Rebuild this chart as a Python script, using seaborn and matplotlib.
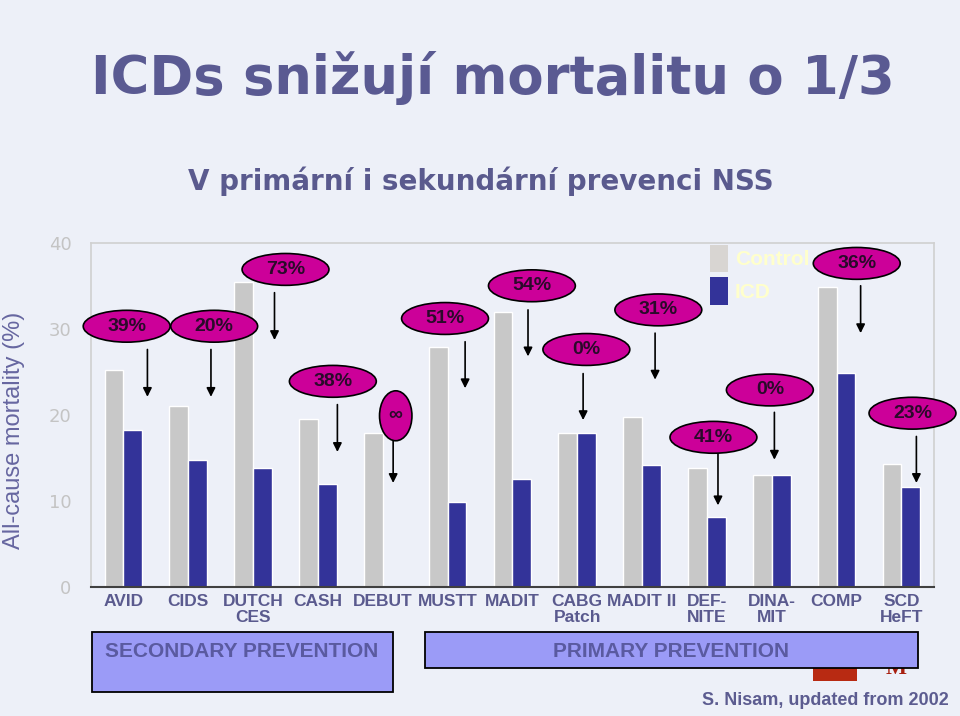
import numpy as np
import pandas as pd
import matplotlib
matplotlib.use("Agg")
import matplotlib.pyplot as plt
import seaborn as sns
from matplotlib.patches import Ellipse, Rectangle, Patch

# data
studies = ["AVID", "CIDS", "DUTCH\nCES", "CASH", "DEBUT", "MUSTT", "MADIT",
           "CABG\nPatch", "MADIT II", "DEF-\nNITE", "DINA-\nMIT", "COMP", "SCD\nHeFT"]
control = [25.2, 21.0, 35.4, 19.5, 17.9, 27.9, 31.9, 17.9, 19.8, 13.8, 13.0, 34.8, 14.3]
icd = [18.3, 14.8, 13.8, 12.0, 0.0, 9.9, 12.6, 17.9, 14.2, 8.1, 13.0, 24.9, 11.6]
reduction = ["39%", "20%", "73%", "38%", "\u221e", "51%", "54%", "0%", "31%", "41%", "0%", "36%", "23%"]

# bubble centres and arrows (x in category units, y in % mortality)
bubble_x = [0.05, 1.40, 2.50, 3.23, 4.20, 4.96, 6.30, 7.14, 8.25, 9.10, 9.97, 11.31, 12.17]
bubble_y = [30.3, 30.3, 36.9, 23.9, 19.9, 31.2, 35.0, 27.6, 32.2, 17.4, 22.9, 37.6, 20.2]
arrow_x = [0.37, 1.35, 2.33, 3.30, 4.16, 5.27, 6.24, 7.09, 8.20, 9.17, 10.04, 11.37, 12.23]
arrow_top = [27.6, 27.6, 34.2, 21.2, 17.2, 28.5, 32.2, 24.8, 29.5, 15.5, 20.3, 35.0, 17.5]
arrow_end = [22.1, 22.1, 28.7, 15.7, 12.1, 23.1, 26.8, 19.4, 24.1, 9.5, 14.8, 29.5, 12.1]

df = pd.DataFrame({
    "study": studies * 2,
    "group": ["Control"] * len(studies) + ["ICD"] * len(studies),
    "mortality": control + icd,
})

sns.set_style("white")
plt.rcParams["font.family"] = ["DejaVu Sans"]

SANS = ["Liberation Sans", "DejaVu Sans"]
SLATE = "#5a5a8e"
GREY = "#c8c8c8"
BLUE = "#333399"

fig = plt.figure(figsize=(9.6, 7.16), dpi=100, facecolor="#edf0f8")

ax = fig.add_axes([0.0948, 0.180, 0.878, 0.481])
ax.set_facecolor("none")

sns.barplot(data=df, x="study", y="mortality", hue="group",
            palette={"Control": GREY, "ICD": BLUE}, width=0.58,
            saturation=1, legend=False, ax=ax)

ax.set_xlim(-0.5, 12.5)
ax.set_ylim(0, 40)
ax.set_yticks([0, 10, 20, 30, 40])
ax.tick_params(axis="y", colors="#c4c4c4", labelsize=13, length=6, width=1, pad=8, direction="out")
ax.tick_params(axis="x", length=0, pad=5)
ax.set_xticks(range(len(studies)))
ax.set_xticklabels(studies, fontsize=12.5, fontweight="bold", color=SLATE,
                   family=SANS, linespacing=1.1)
for s in ["top", "right", "left"]:
    ax.spines[s].set_color("#d0d0d0")
    ax.spines[s].set_linewidth(1.2)
ax.spines["bottom"].set_color("#404040")
ax.spines["bottom"].set_linewidth(1.5)
ax.set_xlabel("")
ax.set_ylabel("All-cause mortality (%)", fontsize=17, color="#6666a0", family=SANS)
ax.yaxis.set_label_coords(-0.078, 0.456)

# reduction bubbles with arrows
for i, lab in enumerate(reduction):
    if lab == "\u221e":
        w, h = 0.50, 5.8
    else:
        w, h = 1.34, 3.7
    ax.add_patch(Ellipse((bubble_x[i], bubble_y[i]), w, h, facecolor="#cc0099",
                         edgecolor="black", lw=1.2, zorder=5, clip_on=False))
    ax.text(bubble_x[i], bubble_y[i], lab, ha="center", va="center", fontsize=14,
            fontweight="bold", color="#2a0a2a", family=SANS, zorder=6)
    ax.annotate("", xy=(arrow_x[i], arrow_end[i]), xytext=(arrow_x[i], arrow_top[i]),
                arrowprops=dict(arrowstyle="-|>", color="black", lw=1.2,
                                mutation_scale=13, shrinkA=0, shrinkB=0), zorder=4)

handles = [Patch(facecolor="#d8d5d2", edgecolor="none"), Patch(facecolor=BLUE, edgecolor="none")]
ax.legend(handles, ["Control", "ICD"], loc="upper left", bbox_to_anchor=(0.734, 0.994),
          frameon=False, borderpad=0, borderaxespad=0, handlelength=0.9, handleheight=1.65,
          handletextpad=0.3, labelspacing=0.25,
          prop=dict(family=SANS, size=15, weight="bold"), labelcolor="#ffffcc")

# titles
fig.text(0.513, 0.891, "ICDs sni\u017euj\u00ed mortalitu o 1/3", ha="center", va="center",
         fontsize=38, fontweight="bold", color="#5a5a92")
fig.text(0.501, 0.747, "V prim\u00e1rn\u00ed i sekund\u00e1rn\u00ed prevenci NSS", ha="center",
         va="center", fontsize=20, fontweight="bold", color="#5a5a8e")

# prevention boxes
fig.patches.append(Rectangle((0.847, 0.049), 0.046, 0.04, transform=fig.transFigure,
                             facecolor="#b82a12", edgecolor="none", zorder=1))
fig.text(0.933, 0.052, "M", ha="center", va="bottom", fontsize=16, fontweight="bold",
         color="#a82010", family=["Liberation Serif", "DejaVu Serif"], zorder=1)
fig.patches.append(Rectangle((0.0958, 0.0335), 0.3135, 0.0838, transform=fig.transFigure,
                             facecolor="#9b9bf7", edgecolor="black", lw=1.3, zorder=2))
fig.patches.append(Rectangle((0.4427, 0.067), 0.5135, 0.0503, transform=fig.transFigure,
                             facecolor="#9b9bf7", edgecolor="black", lw=1.3, zorder=2))
fig.text(0.252, 0.0894, "SECONDARY PREVENTION", ha="center", va="center", fontsize=15,
         fontweight="bold", color="#5a5aa0", family=SANS, zorder=3)
fig.text(0.699, 0.0894, "PRIMARY PREVENTION", ha="center", va="center", fontsize=15,
         fontweight="bold", color="#5a5aa0", family=SANS, zorder=3)

fig.text(0.988, 0.022, "S. Nisam, updated from 2002", ha="right", va="center", fontsize=13,
         fontweight="bold", color="#5c5c90", family=SANS)

fig.savefig("out.png", dpi=100, facecolor=fig.get_facecolor())
